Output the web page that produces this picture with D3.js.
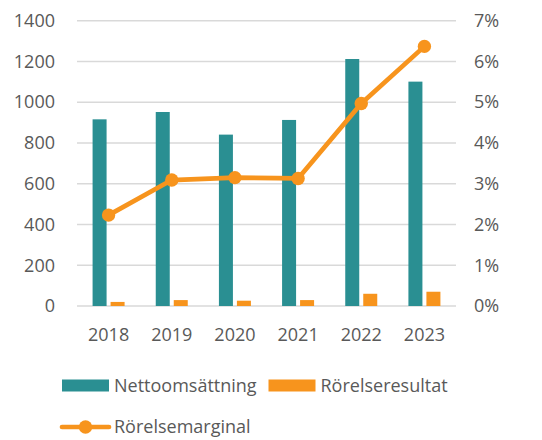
<!DOCTYPE html>
<html><head><meta charset="utf-8">
<script src="https://cdn.jsdelivr.net/npm/d3@7"></script>
<style>
body{margin:0;background:#fff;}
text{font-family:"Open Sans","Noto Sans",sans-serif;fill:#595959;}
</style></head>
<body>
<svg id="chart" width="542" height="440"></svg>
<script>
const years = ["2018","2019","2020","2021","2022","2023"];
const nettoomsattning = [916, 952, 841, 913, 1212, 1101];
const rorelseresultat = [20, 29, 26, 29, 60, 70];
const rorelsemarginal = [2.23, 3.09, 3.15, 3.13, 4.97, 6.37];
const leftTicks = [0,200,400,600,800,1000,1200,1400];
const rightTicks = [0,1,2,3,4,5,6,7];

const teal = "#2A8F92", orange = "#F7941D";
const svg = d3.select("#chart");
const plot = {left:77, right:456, top:20.7, bottom:306};

const x = d3.scaleBand().domain(years).range([plot.left, plot.right]).paddingInner(0).paddingOuter(0);
const yL = d3.scaleLinear().domain([0,1400]).range([plot.bottom, plot.top]);
const yR = d3.scaleLinear().domain([0,7]).range([plot.bottom, plot.top]);

// gridlines
svg.append("g").selectAll("line").data(leftTicks).join("line")
  .attr("x1", plot.left).attr("x2", plot.right)
  .attr("y1", d=>yL(d)).attr("y2", d=>yL(d))
  .attr("stroke", "#D9D9D9").attr("stroke-width", 1.5);

function styleAxis(g){
  g.select(".domain").remove();
  g.attr("font-size", 18).attr("font-family", "Open Sans");
  g.selectAll("text").attr("font-size", 18).style("fill","#595959");
}

// left axis
const axL = d3.axisLeft(yL).tickValues(leftTicks).tickSize(0).tickPadding(0).tickFormat(d3.format("d"));
svg.append("g").attr("transform", `translate(55,0)`).call(axL).call(styleAxis);

// right axis
const axR = d3.axisRight(yR).tickValues(rightTicks).tickSize(0).tickPadding(0).tickFormat(d=>d+"%");
svg.append("g").attr("transform", `translate(474,0)`).call(axR).call(styleAxis);

// x axis
const axX = d3.axisBottom(x).tickSize(0).tickPadding(0);
svg.append("g").attr("transform", `translate(0,${plot.bottom+22})`).call(axX).call(styleAxis);

const bw = 14, gap = 4;
svg.append("g").selectAll("rect").data(years).join("rect")
  .attr("x", d=>x(d)+x.bandwidth()/2 - bw - gap/2)
  .attr("y", (d,i)=>yL(nettoomsattning[i]))
  .attr("width", bw)
  .attr("height", (d,i)=>yL(0)-yL(nettoomsattning[i]))
  .attr("fill", teal);
svg.append("g").selectAll("rect").data(years).join("rect")
  .attr("x", d=>x(d)+x.bandwidth()/2 + gap/2)
  .attr("y", (d,i)=>yL(rorelseresultat[i]))
  .attr("width", bw)
  .attr("height", (d,i)=>yL(0)-yL(rorelseresultat[i]))
  .attr("fill", orange);

const line = d3.line().x((d,i)=>x(years[i])+x.bandwidth()/2).y(d=>yR(d));
svg.append("path").datum(rorelsemarginal).attr("d", line)
  .attr("fill","none").attr("stroke", orange).attr("stroke-width", 4.7).attr("stroke-linejoin","round");
svg.append("g").selectAll("circle").data(rorelsemarginal).join("circle")
  .attr("cx", (d,i)=>x(years[i])+x.bandwidth()/2).attr("cy", d=>yR(d))
  .attr("r", 6.7).attr("fill", orange);

// legend
const lg = svg.append("g");
lg.append("rect").attr("x",62).attr("y",379.5).attr("width",47).attr("height",12).attr("fill",teal);
lg.append("text").attr("x",114).attr("y",385.5).attr("dy","0.35em").attr("font-size",18).text("Nettoomsättning");
lg.append("rect").attr("x",268.5).attr("y",379.5).attr("width",47).attr("height",12).attr("fill",orange);
lg.append("text").attr("x",320.5).attr("y",385.5).attr("dy","0.35em").attr("font-size",18).text("Rörelseresultat");
lg.append("line").attr("x1",62).attr("x2",109).attr("y1",427).attr("y2",427)
  .attr("stroke",orange).attr("stroke-width",4.7).attr("stroke-linecap","round");
lg.append("circle").attr("cx",85.5).attr("cy",427).attr("r",6.7).attr("fill",orange);
lg.append("text").attr("x",114).attr("y",427).attr("dy","0.35em").attr("font-size",18).text("Rörelsemarginal");
</script>
</body></html>
